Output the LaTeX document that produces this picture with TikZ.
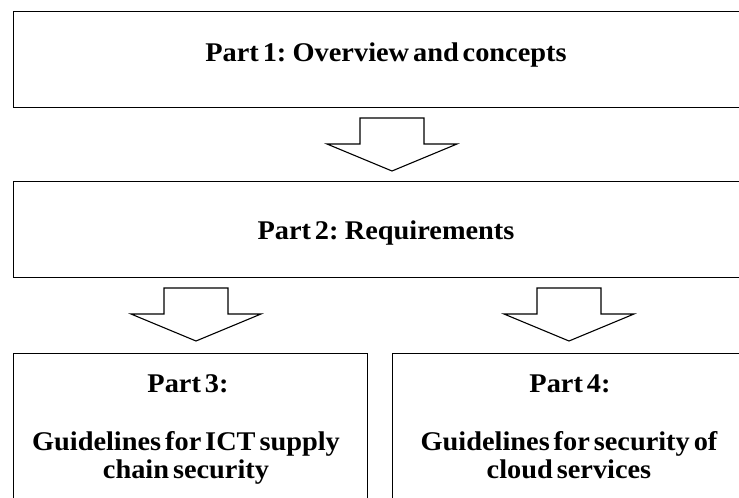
\documentclass[tikz,border=0pt]{standalone}
\usepackage{fontspec}
\setmainfont{Liberation Serif}[WordSpace=0.55, FakeStretch=1.05]
\begin{document}
\begin{tikzpicture}[x=1pt, y=-1pt,
  box/.style={draw=black, line width=1.2pt, rectangle, anchor=north west, inner sep=0pt},
  lbl/.style={font=\bfseries\fontsize{27}{27}\selectfont, anchor=base, inner sep=0pt},
  arrowline/.style={draw=black, line width=1.1pt, fill=white, line join=miter},
  blockarrow/.pic={
    \draw[arrowline] (-32,0) -- (32,0) -- (32,26) -- (65,26) -- (0,53)
      -- (-65,26) -- (-32,26) -- cycle;
  }]
  \useasboundingbox (0,0) rectangle (739,498);
  \clip (0,0) rectangle (739,498);

  % the four parts
  \node[box, minimum width=744pt, minimum height=96pt] (part1) at (13,11) {};
  \node[box, minimum width=744pt, minimum height=96pt] (part2) at (13,181) {};
  \node[box, minimum width=354pt, minimum height=160pt] (part3) at (13,353) {};
  \node[box, minimum width=360pt, minimum height=160pt] (part4) at (392,353) {};

  % labels
  \node[lbl] (t1) at (386,61) {Part~1: Overview and concepts};
  \node[lbl] (t2) at (386,239) {Part~2: Requirements};
  \node[lbl] (t3a) at (188,392) {Part~3:};
  \node[lbl] (t3b) at (186,450) {Guidelines for ICT supply};
  \node[lbl] (t3c) at (186,478) {chain security};
  \node[lbl] (t4a) at (570,392) {Part~4:};
  \node[lbl] (t4b) at (569,450) {Guidelines for security of};
  \node[lbl] (t4c) at (569,478) {cloud services};

  % block arrows between the parts
  \pic at (392,118) {blockarrow};
  \pic at (196,288) {blockarrow};
  \pic at (569,288) {blockarrow};
\end{tikzpicture}
\end{document}
